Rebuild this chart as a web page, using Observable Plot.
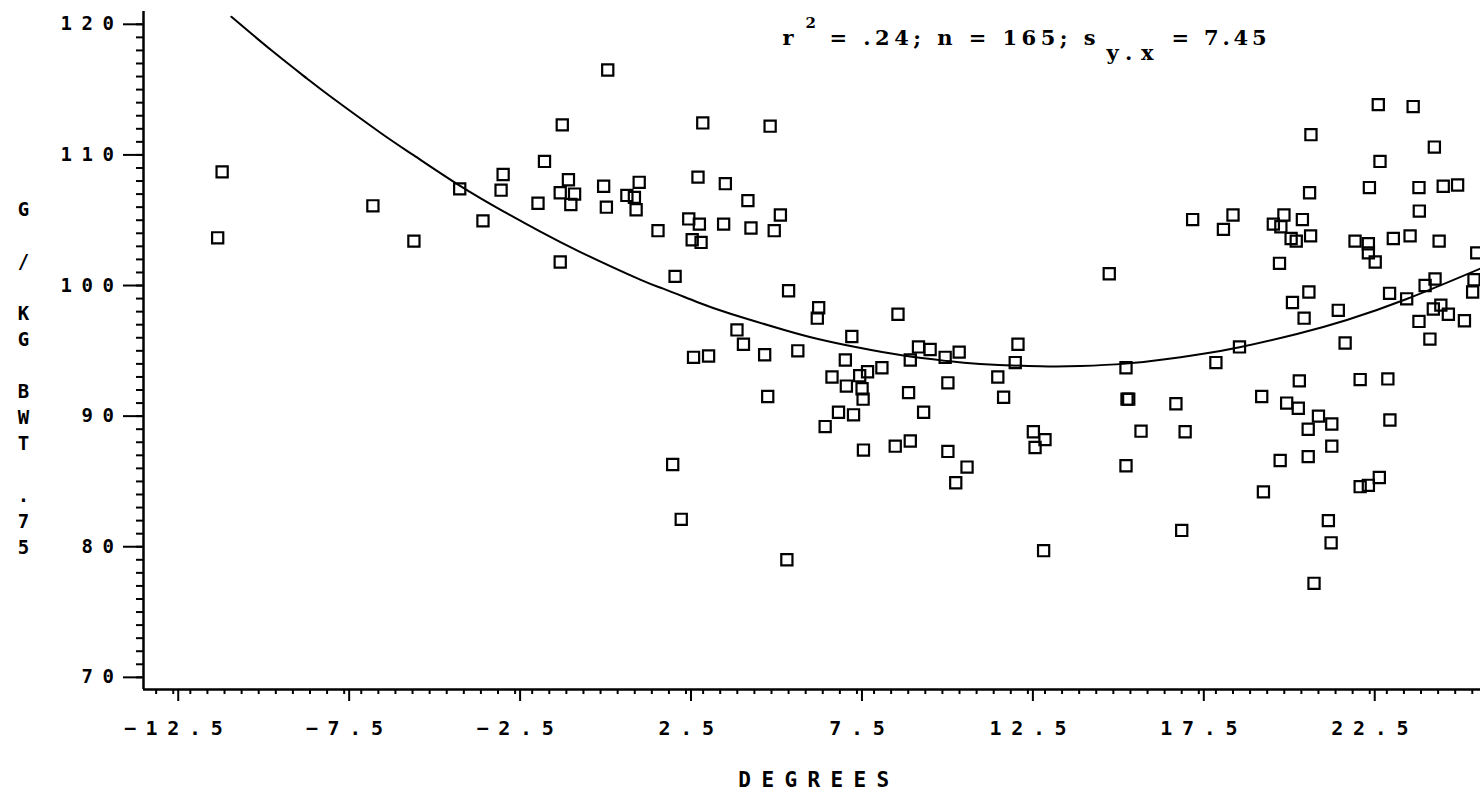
<!DOCTYPE html>
<html><head><meta charset="utf-8">
<script src="https://cdn.jsdelivr.net/npm/d3@7"></script>
<script src="https://cdn.jsdelivr.net/npm/@observablehq/plot@0.6"></script>
<style>
html,body{margin:0;padding:0;background:#fff;}
#chart svg{display:block;}
g[aria-label="y-axis tick label"] text{letter-spacing:9.6px;}
g[aria-label="x-axis tick label"] text{letter-spacing:9.7px;}
</style></head><body><div id="chart"></div>
<script>
// Scatter data: outdoor temperature (degrees) vs g / kg BWT^.75
const degrees = [0.21,-1.12,-1.64,-11.07,-2.85,-0.94,0.09,-4.12,-2.91,-1.18,-0.76,-1.83,-0.87,0.17,-6.66,-3.44,-11.2,-5.46,-1.18,0.77,0.99,1.04,1.13,
2.99,4.96,2.85,3.65,4.31,5.26,2.58,2.89,3.6,4.4,5.08,1.68,2.68,2.94,2.18,5.5,6.38,6.34,8.7,3.99,
4.18,2.72,3.16,4.8,5.77,7.35,7.16,6.77,7.19,7.58,7.81,8.23,7.65,7.68,9.3,9.64,9.06,10.08,10.49,10.16,9.01,9.45,6.96,7.4,6.57,4.89,
12.21,12.13,11.62,11.79,7.69,8.62,9.06,10.16,10.72,10.39,12.66,12.71,2.11,2.36,5.45,12.96,13.0,
15.37,15.4,15.45,16.83,15.81,17.1,15.37,17.0,18.0,18.69,21.78,24.26,20.44,22.22,23.03,19.34,20.07,20.41,21.0,21.39,20.7,23.09,21.39,20.7,19.88,19.39,22.22,22.46,22.78,21.29,21.37,20.87,
14.88,17.32,18.5,18.22,19.86,20.78,20.74,19.99,19.68,19.9,20.53,20.2,20.35,20.77,22.75,23.77,24.39,22.8,22.49,23.94,24.65,25.07,23.95,22.07,22.46,22.46,22.66,23.19,23.68,24.53,25.63,24.41,24.12,25.55,25.51,23.08,23.58,24.36,24.58,24.8,25.27,23.94,21.58,20.58,20.24,20.72];
const gPerKg = [116.5,112.3,109.5,108.7,108.5,108.1,107.6,107.4,107.3,107.1,107.0,106.3,106.2,106.0,106.1,104.95,103.65,103.4,101.8,106.9,106.75,105.8,107.9,
112.45,112.2,108.3,107.8,106.5,105.4,105.1,104.7,104.7,104.4,104.2,104.2,103.5,103.3,100.7,99.6,98.3,97.5,97.8,96.6,
95.5,94.5,94.6,94.7,95.0,96.1,94.3,93.0,92.3,93.1,93.4,93.7,92.1,91.3,95.3,95.1,94.3,94.5,94.9,92.55,91.8,90.3,90.3,90.1,89.2,91.5,
95.5,94.1,93.0,91.45,87.4,87.7,88.1,87.3,86.1,84.9,88.8,87.6,86.3,82.1,79.0,79.7,88.2,
93.7,91.3,91.3,90.95,88.85,88.8,86.2,81.25,94.1,95.3,95.6,95.9,92.7,92.8,92.85,91.5,91.0,90.6,90.0,89.4,89.0,89.7,87.7,86.9,86.6,84.2,84.6,84.7,85.3,82.0,80.3,77.2,
100.9,105.05,105.4,104.3,101.7,111.55,107.1,105.4,104.7,104.5,105.05,103.6,103.4,103.8,113.85,113.7,110.6,109.5,107.5,107.5,107.6,107.7,105.7,103.4,103.2,102.5,101.8,103.6,103.8,103.4,102.5,100.5,100.0,100.45,99.5,99.4,98.98,98.2,98.5,97.8,97.3,97.25,98.1,97.5,98.7,99.5];

// Fitted regression curve
const fitDegrees = [-10.8,-9.61,-8.58,-7.9,-6.44,-5.46,-4.12,-2.83,-1.76,-0.59,1.16,1.85,2.82,3.8,5.35,6.33,7.5,8.86,10.13,11.1,12.86,14.03,15.37,16.46,17.63,18.69,20.37,21.83,23.58,25.72];
const fitGPerKg = [120.58,117.97,115.83,114.47,111.7,109.96,107.65,105.66,104.12,102.56,100.45,99.74,98.74,97.84,96.62,95.93,95.27,94.64,94.22,94.0,93.81,93.83,94.02,94.33,94.77,95.27,96.29,97.36,98.97,101.28];

// Axes
const xMajorTicks = [-12.5,-7.5,-2.5,2.5,7.5,12.5,17.5,22.5];
const yMajorTicks = [70,80,90,100,110,120];
const xDomain = [-13.37, 25.74];
const yDomain = [69.07, 120.98];
const xMinorTicks = d3.range(-13, 25.6, 0.5);
const yMinorTicks = d3.range(70, 120.5, 1);
const xLabel = "DEGREES";
const yLabelChars = ["G"," ","/"," ","K","G"," ","B","W","T"," ",".","7","5"];

// Statistics annotation: r² = .24; n = 165; s_y.x = 7.45
const statsR = "r";
const statsSup = "2";
const statsMid = "= .24; n = 165; s";
const statsSub = "y.x";
const statsEnd = "= 7.45";

const points = degrees.map((d, i) => ({x: d, y: gPerKg[i]}));
const fit = fitDegrees.map((d, i) => ({x: d, y: fitGPerKg[i]}));
const fmtX = d => (d < 0 ? "\u2212" : "") + Math.abs(d).toFixed(1);

const typewriter = "'DejaVu Serif', 'Liberation Serif', serif";
// layout of annotation pieces: [text, left px, baseline px, font size, forced length]
const statLayout = [
  [statsR, 782, 44, 21, null],
  [statsSup, 805, 27, 15, null],
  [statsMid, 829, 44, 21, 266],
  [statsSub, 1106, 59, 21, 47],
  [statsEnd, 1171, 44, 21, 95]
];
const statMarks = statLayout.map(([txt, left, baseline, size]) =>
  Plot.text([txt], {frameAnchor: "top-left", textAnchor: "start", lineAnchor: "middle",
    dx: left - 143, dy: baseline - 0.32 * size - 11, fontSize: size, fontWeight: "bold"}));

const chart = Plot.plot({
  width: 1480, height: 796,
  marginLeft: 143, marginRight: 0, marginTop: 11, marginBottom: 107,
  style: {fontFamily: "'DejaVu Sans Mono', monospace", background: "#fff", color: "#000", overflow: "visible"},
  x: {domain: xDomain, axis: null},
  y: {domain: yDomain, axis: null},
  marks: [
    Plot.axisY(yMinorTicks, {tickSize: 7, strokeWidth: 2, fill: "none", label: null}),
    Plot.axisY(yMajorTicks, {tickSize: 19, tickPadding: 0, dx: -1, strokeWidth: 2, fontSize: 19, fontWeight: "bold", tickFormat: d => String(d), label: null}),
    Plot.axisX(xMinorTicks, {tickSize: 5, strokeWidth: 2, fill: "none", label: null}),
    Plot.axisX(xMajorTicks, {tickSize: 12, tickPadding: 19, dx: 5, strokeWidth: 2, fontSize: 20, fontWeight: "bold", tickFormat: fmtX, label: null}),
    Plot.ruleX([xDomain[0]], {strokeWidth: 2.5}),
    Plot.ruleY([yDomain[0]], {strokeWidth: 2.5}),
    Plot.line(fit, {x: "x", y: "y", curve: "natural", stroke: "black", strokeWidth: 2}),
    Plot.dot(points, {x: "x", y: "y", symbol: "square", r: 6.3, stroke: "black", strokeWidth: 2.2, fill: "none"}),
    Plot.text([xLabel], {frameAnchor: "bottom", textAnchor: "middle", lineAnchor: "middle", dy: 90.4, dx: 7, fontSize: 21, fontWeight: "bold"}),
    Plot.text([yLabelChars.join("\n")], {frameAnchor: "left", textAnchor: "middle", lineAnchor: "middle", dx: -120, dy: 26, fontSize: 19, fontWeight: "bold", lineHeight: 26/19}),
    ...statMarks
  ]
});
document.getElementById("chart").appendChild(chart);
chart.querySelectorAll("text").forEach(t => {
  if (t.textContent === xLabel) t.style.letterSpacing = "10.4px";
  const entry = statLayout.find(e => e[0] === t.textContent);
  if (entry && !t.closest('g[aria-label^="x-axis"]') && !t.closest('g[aria-label^="y-axis"]')) {
    t.style.fontFamily = typewriter;
    if (entry[4]) {
      t.setAttribute("textLength", entry[4]);
      t.setAttribute("lengthAdjust", "spacing");
    }
  }
});
</script>
</body></html>
